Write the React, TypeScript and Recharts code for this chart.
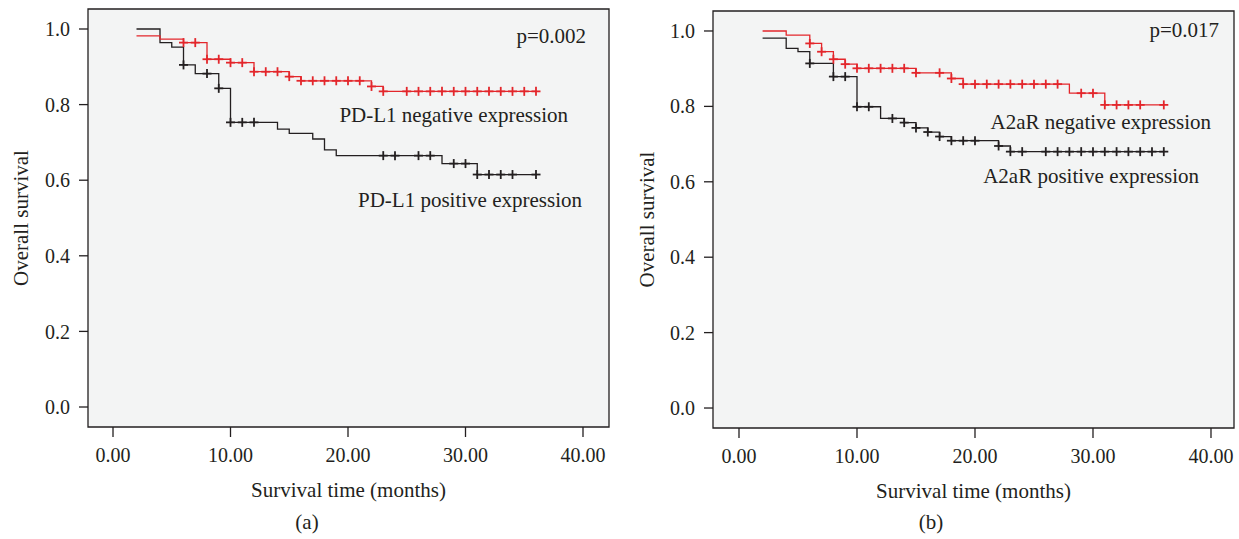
import React from "react";
import {
  ComposedChart,
  Line,
  Scatter,
  XAxis,
  YAxis,
  ReferenceArea,
  Label,
} from "recharts";

// (a) PD-L1 — step times (months) and survival after each step
const aNegTimes = [2, 4, 6, 8, 10, 12, 15, 16, 22, 23, 36];
const aNegSurv = [0.982, 0.973, 0.964, 0.92, 0.911, 0.887, 0.874, 0.863, 0.848, 0.835, 0.835];
const aNegCensored = [6, 7, 8, 9, 10, 11, 12, 13, 14, 15, 16, 17, 18, 19, 20, 21, 22, 23, 25, 26, 27, 28, 29, 30, 31, 32, 33, 34, 35, 36];

const aPosTimes = [2, 4, 5, 6, 7, 9, 10, 14, 15, 17, 18, 19, 28, 31, 36];
const aPosSurv = [1.0, 0.964, 0.952, 0.905, 0.882, 0.843, 0.753, 0.735, 0.724, 0.709, 0.68, 0.665, 0.644, 0.615, 0.615];
const aPosCensored = [6, 8, 9, 10, 11, 12, 23, 24, 26, 27, 29, 30, 31, 32, 33, 34, 36];

// (b) A2aR
const bNegTimes = [2, 4, 6, 7, 8, 9, 10, 15, 18, 19, 28, 31, 36];
const bNegSurv = [1.0, 0.989, 0.967, 0.945, 0.925, 0.912, 0.901, 0.889, 0.874, 0.859, 0.835, 0.804, 0.804];
const bNegCensored = [6, 7, 8, 9, 10, 11, 12, 13, 14, 15, 17, 18, 19, 20, 21, 22, 23, 24, 25, 26, 27, 29, 30, 31, 32, 33, 34, 36];

const bPosTimes = [2, 4, 5, 6, 8, 10, 12, 14, 15, 16, 17, 18, 22, 23, 36];
const bPosSurv = [0.981, 0.954, 0.945, 0.914, 0.879, 0.799, 0.768, 0.757, 0.743, 0.732, 0.72, 0.709, 0.695, 0.68, 0.68];
const bPosCensored = [6, 8, 9, 10, 11, 13, 14, 15, 16, 17, 18, 19, 20, 22, 23, 24, 26, 27, 28, 29, 30, 31, 32, 33, 34, 35, 36];

const xTicks = [0, 10, 20, 30, 40];
const yTicks = [0, 0.2, 0.4, 0.6, 0.8, 1.0];

const RED = "#e3262b";
const INK = "#231f20";
const FONT = "'Liberation Serif', 'Times New Roman', serif";

function survAt(times, surv, t) {
  let s = surv[0];
  for (let i = 0; i < times.length; i++) {
    if (times[i] <= t) s = surv[i];
  }
  return s;
}

function steps(times, surv) {
  return times.map((t, i) => ({ t, s: surv[i] }));
}

function marks(times, surv, cens) {
  return cens.map((t) => ({ t, s: survAt(times, surv, t) }));
}

const plusShape = (color) => (props) => {
  const { cx, cy } = props;
  return (
    <g stroke={color} strokeWidth={1.8}>
      <line x1={cx - 4.5} y1={cy} x2={cx + 4.5} y2={cy} />
      <line x1={cx} y1={cy - 4.5} x2={cx} y2={cy + 4.5} />
    </g>
  );
};

function Panel({ left, width, margin, yWidth, xDomain, yDomain, yTitleOffset, neg, pos }) {
  const tickStyle = { fontSize: 20, fontFamily: FONT, fill: INK };
  return (
    <div style={{ position: "absolute", left, top: 0 }}>
      <ComposedChart width={width} height={539} margin={margin}>
        <XAxis
          type="number"
          dataKey="t"
          domain={xDomain}
          allowDataOverflow
          ticks={xTicks}
          tickFormatter={(v) => v.toFixed(2)}
          axisLine={false}
          tickLine={{ stroke: INK, strokeWidth: 1.3 }}
          tickSize={10}
          tickMargin={11}
          height={50}
          tick={tickStyle}
        >
          <Label
            value="Survival time (months)"
            position="bottom"
            offset={5}
            style={{ fontSize: 21, fontFamily: FONT, fill: INK }}
          />
        </XAxis>
        <YAxis
          type="number"
          dataKey="s"
          domain={yDomain}
          allowDataOverflow
          ticks={yTicks}
          tickFormatter={(v) => v.toFixed(1)}
          axisLine={false}
          tickLine={{ stroke: INK, strokeWidth: 1.3 }}
          tickSize={9}
          tickMargin={9}
          width={yWidth}
          tick={tickStyle}
        >
          <Label
            value="Overall survival"
            angle={-90}
            position="insideLeft"
            offset={yTitleOffset}
            style={{ fontSize: 21, fontFamily: FONT, fill: INK, textAnchor: "middle" }}
          />
        </YAxis>
        <ReferenceArea
          x1={xDomain[0]}
          x2={xDomain[1]}
          y1={yDomain[0]}
          y2={yDomain[1]}
          fill="#f3f4f4"
          fillOpacity={1}
          stroke={INK}
          strokeWidth={1.3}
          ifOverflow="visible"
        />
        <Line
          data={steps(pos.times, pos.surv)}
          dataKey="s"
          type="stepAfter"
          stroke={INK}
          strokeWidth={1.3}
          dot={false}
          activeDot={false}
          isAnimationActive={false}
        />
        <Line
          data={steps(neg.times, neg.surv)}
          dataKey="s"
          type="stepAfter"
          stroke={RED}
          strokeWidth={1.3}
          dot={false}
          activeDot={false}
          isAnimationActive={false}
        />
        <Scatter
          data={marks(pos.times, pos.surv, pos.cens)}
          dataKey="s"
          shape={plusShape(INK)}
          isAnimationActive={false}
        />
        <Scatter
          data={marks(neg.times, neg.surv, neg.cens)}
          dataKey="s"
          shape={plusShape(RED)}
          isAnimationActive={false}
        />
      </ComposedChart>
    </div>
  );
}

export default function App() {
  const txt = { fontSize: 21, fontFamily: FONT, fill: INK };
  return (
    <div style={{ position: "absolute", left: 0, top: 0, width: 1239, height: 539, background: "#fff" }}>
      <Panel
        left={0}
        width={620}
        margin={{ top: 9, right: 11, bottom: 62, left: 0 }}
        yWidth={88}
        xDomain={[-2.128, 42.213]}
        yDomain={[-0.0529, 1.0529]}
        yTitleOffset={21}
        neg={{ times: aNegTimes, surv: aNegSurv, cens: aNegCensored }}
        pos={{ times: aPosTimes, surv: aPosSurv, cens: aPosCensored }}
      />
      <Panel
        left={620}
        width={619}
        margin={{ top: 11, right: 5, bottom: 61, left: 0 }}
        yWidth={93}
        xDomain={[-2.203, 41.95]}
        yDomain={[-0.053, 1.053]}
        yTitleOffset={27}
        neg={{ times: bNegTimes, surv: bNegSurv, cens: bNegCensored }}
        pos={{ times: bPosTimes, surv: bPosSurv, cens: bPosCensored }}
      />
      <svg width={1239} height={539} style={{ position: "absolute", left: 0, top: 0, pointerEvents: "none" }}>
        <text x={586} y={43} textAnchor="end" {...txt}>p=0.002</text>
        <text x={568} y={122} textAnchor="end" {...txt}>PD-L1 negative expression</text>
        <text x={582} y={207} textAnchor="end" {...txt}>PD-L1 positive expression</text>
        <text x={1219} y={37} textAnchor="end" {...txt}>p=0.017</text>
        <text x={1211} y={129} textAnchor="end" {...txt}>A2aR negative expression</text>
        <text x={1199} y={183} textAnchor="end" {...txt}>A2aR positive expression</text>
        <text x={307} y={529} textAnchor="middle" {...txt}>(a)</text>
        <text x={931} y={529} textAnchor="middle" {...txt}>(b)</text>
      </svg>
    </div>
  );
}
